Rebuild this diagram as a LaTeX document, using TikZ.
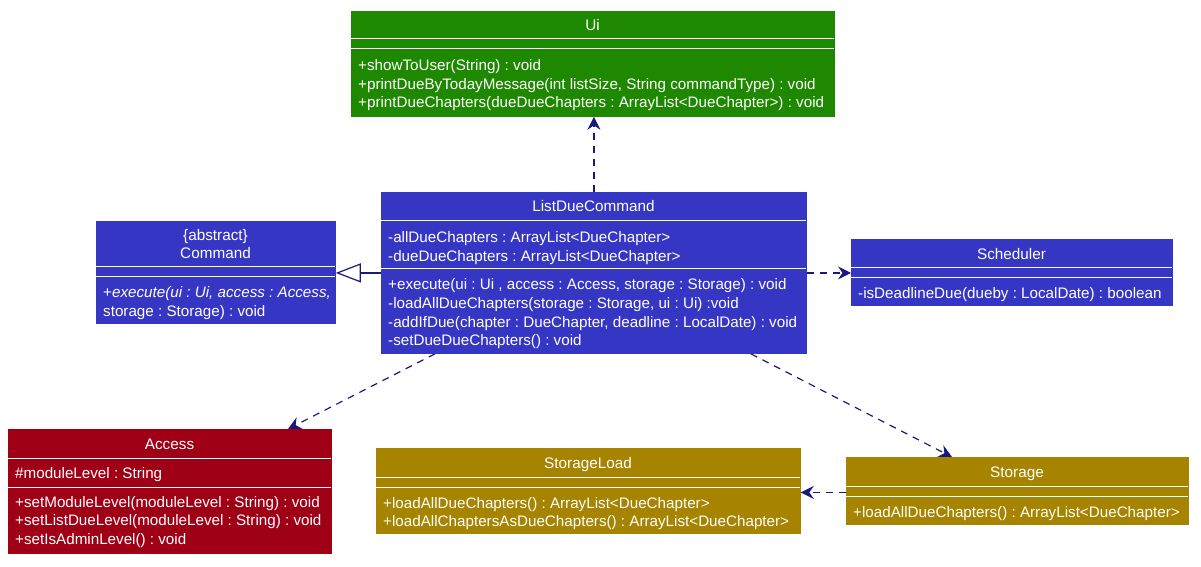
\documentclass[tikz,border=0pt]{standalone}
\usepackage{fontspec}
\setmainfont{Liberation Sans}
\usetikzlibrary{arrows.meta}
\frenchspacing
\definecolor{uigreen}{RGB}{30,137,0}
\definecolor{cmdblue}{RGB}{54,54,196}
\definecolor{accred}{RGB}{160,0,22}
\definecolor{stgold}{RGB}{166,132,0}
\definecolor{arrowblue}{RGB}{24,24,128}
\tikzset{
  cls/.style={draw=#1, fill=#1, line width=0.8pt, rectangle, anchor=north west, inner sep=0pt},
  sepline/.style={draw=white, line width=1pt},
  ctitle/.style={text=white, font=\fontsize{15.3}{18.5}\selectfont, anchor=base, inner sep=0pt},
  member/.style={text=white, font=\fontsize{15.2}{18.5}\selectfont, anchor=base west, inner sep=0pt},
  dep/.style={draw=arrowblue, line width=1.2pt, dash pattern=on 7pt off 6pt, -{Stealth[length=13pt,width=13pt,inset=4.5pt]}},
  inherit/.style={draw=arrowblue, line width=1.2pt, -{Triangle[open,length=25pt,width=19pt,fill=white]}}
}
\begin{document}
\begin{tikzpicture}[x=1pt,y=-1pt]
\useasboundingbox (0,0) rectangle (1201,566);
% ---------- Ui ----------
\node[cls=uigreen, minimum width=483pt, minimum height=105pt] (ui) at (351,11) {};
\node[ctitle] (uit) at (592.5,30) {Ui};
\draw[sepline] (351,38.5) -- (834,38.5);
\draw[sepline] (351,48.5) -- (834,48.5);
\node[member] (uim1) at (358,70) {+showToUser(String) : void};
\node[member] (uim2) at (358,89) {+printDueByTodayMessage(int listSize, String commandType) : void};
\node[member] (uim3) at (358,107.5) {+printDueChapters(dueDueChapters : ArrayList<DueChapter>) : void};
% ---------- Command ----------
\node[cls=cmdblue, minimum width=239pt, minimum height=102pt] (cmd) at (96,221) {};
\node[ctitle] (cmdt1) at (215.5,240) {\{abstract\}};
\node[ctitle] (cmdt2) at (215.5,258) {Command};
\draw[sepline] (96,266) -- (335,266);
\draw[sepline] (96,276) -- (335,276);
\node[member] (cmdm1) at (103,297) {+\itshape execute(ui : Ui, access : Access,};
\node[member] (cmdm2) at (103,316) {storage : Storage) : void};
% ---------- ListDueCommand ----------
\node[cls=cmdblue, minimum width=425pt, minimum height=161pt] (ldc) at (381,192) {};
\node[ctitle] (ldct) at (593.5,211) {ListDueCommand};
\draw[sepline] (381,220) -- (806,220);
\node[member] (ldca1) at (388,242) {-allDueChapters : ArrayList<DueChapter>};
\node[member] (ldca2) at (388,261) {-dueDueChapters : ArrayList<DueChapter>};
\draw[sepline] (381,268) -- (806,268);
\node[member] (ldcm1) at (388,289) {+execute(ui : Ui , access : Access, storage : Storage) : void};
\node[member] (ldcm2) at (388,308) {-loadAllDueChapters(storage : Storage, ui : Ui) :void};
\node[member] (ldcm3) at (388,327) {-addIfDue(chapter : DueChapter, deadline : LocalDate) : void};
\node[member] (ldcm4) at (388,345) {-setDueDueChapters() : void};
% ---------- Scheduler ----------
\node[cls=cmdblue, minimum width=321pt, minimum height=66pt] (sch) at (851,239) {};
\node[ctitle] (scht) at (1011.5,259) {Scheduler};
\draw[sepline] (851,267) -- (1172,267);
\draw[sepline] (851,277) -- (1172,277);
\node[member] (schm1) at (858,298) {-isDeadlineDue(dueby : LocalDate) : boolean};
% ---------- Access ----------
\node[cls=accred, minimum width=323pt, minimum height=124pt] (acc) at (8,429) {};
\node[ctitle] (acct) at (169.5,449) {Access};
\draw[sepline] (8,458) -- (331,458);
\node[member] (acca1) at (15,478) {\#moduleLevel : String};
\draw[sepline] (8,487) -- (331,487);
\node[member] (accm1) at (15,507) {+setModuleLevel(moduleLevel : String) : void};
\node[member] (accm2) at (15,525.5) {+setListDueLevel(moduleLevel : String) : void};
\node[member] (accm3) at (15,544) {+setIsAdminLevel() : void};
% ---------- StorageLoad ----------
\node[cls=stgold, minimum width=424pt, minimum height=85pt] (sl) at (376,448) {};
\node[ctitle] (slt) at (588,468) {StorageLoad};
\draw[sepline] (376,477) -- (800,477);
\draw[sepline] (376,487) -- (800,487);
\node[member] (slm1) at (383,508) {+loadAllDueChapters() : ArrayList<DueChapter>};
\node[member] (slm2) at (383,526.5) {+loadAllChaptersAsDueChapters() : ArrayList<DueChapter>};
% ---------- Storage ----------
\node[cls=stgold, minimum width=342pt, minimum height=67pt] (st) at (846,457) {};
\node[ctitle] (stt) at (1017,477) {Storage};
\draw[sepline] (846,486) -- (1188,486);
\draw[sepline] (846,496) -- (1188,496);
\node[member] (stm1) at (853,517) {+loadAllDueChapters() : ArrayList<DueChapter>};
% ---------- connectors ----------
\draw[inherit] (ldc.west) -- (ldc.west -| cmd.east);
\draw[dep] (ldc.north) -- (ldc.north |- ui.south);
\draw[dep] (ldc.east) -- (ldc.east -| sch.west);
\draw[dep] ([xshift=54pt]ldc.south west) -- ([xshift=280pt]acc.north west);
\draw[dep] ([xshift=-56pt]ldc.south east) -- ([xshift=106pt]st.north west);
\draw[dep] ([yshift=-1.5pt]st.west) -- ([yshift=-1.5pt]st.west -| sl.east);
\end{tikzpicture}
\end{document}
